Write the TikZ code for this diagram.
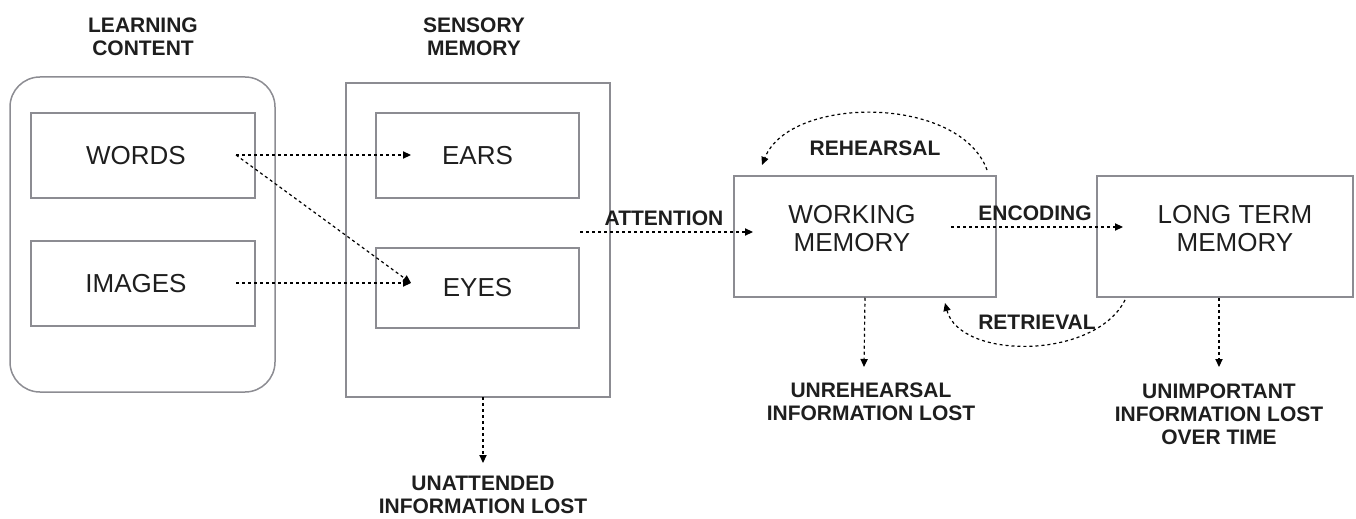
\documentclass[tikz,border=0pt]{standalone}
\usepackage{fontspec}
\setmainfont{Liberation Sans}
\usepackage{tikz}
\usetikzlibrary{arrows.meta}
\definecolor{boxgray}{RGB}{140,140,146}
\definecolor{textblack}{RGB}{30,30,30}

\begin{document}
\begin{tikzpicture}[x=0.5pt,y=-0.5pt,
    box/.style={draw=boxgray, line width=0.75pt, inner sep=0pt},
    boxtext/.style={font=\fontsize{13}{14}\selectfont, text=textblack, align=center},
    lbl/.style={font=\fontsize{10.5}{11.5}\selectfont\bfseries, text=textblack, align=center},
    flow/.style={black, line width=0.6pt, dash pattern=on 1.5pt off 1.5pt, -{Triangle[length=4pt,width=3.6pt]}}]
         \useasboundingbox (0,0) rectangle (1356,519);
         % learning content
         \node[lbl] (learntitle) at (143,37) {LEARNING\\CONTENT};
         \node[box, rounded corners=15pt, minimum width=132.5pt, minimum height=157.5pt] (learn) at (142.5,234.5) {};
         \node[box, minimum width=112pt, minimum height=42.5pt] (words) at (143,155.5) {};
         \node[boxtext] (wordstext) at (136,155.5) {WORDS};
         \node[box, minimum width=112pt, minimum height=42.5pt] (images) at (143,283.5) {};
         \node[boxtext] (imagestext) at (136,283.5) {IMAGES};
         % sensory memory
         \node[lbl] (sensorytitle) at (474,37) {SENSORY\\MEMORY};
         \node[box, minimum width=132pt, minimum height=157pt] (sensory) at (478,240) {};
         \node[box, boxtext, minimum width=101.5pt, minimum height=42.5pt] (ears) at (477.5,155.5) {EARS};
         \node[box, boxtext, minimum width=101.5pt, minimum height=40pt] (eyes) at (477.5,288) {EYES};
         \node[lbl] (unattended) at (483,495) {UNATTENDED\\INFORMATION LOST};
         % working and long term memory
         \node[box, minimum width=131pt, minimum height=60.5pt] (wm) at (865,236.5) {};
         \node[boxtext] (wmtext) at (852,229) {WORKING\\MEMORY};
         \node[box, minimum width=128pt, minimum height=60.5pt] (ltm) at (1225,236.5) {};
         \node[boxtext] (ltmtext) at (1235,229) {LONG TERM\\MEMORY};
         \node[lbl] (unrehearsed) at (871,402) {UNREHEARSAL\\INFORMATION LOST};
         \node[lbl] (unimportant) at (1219,414) {UNIMPORTANT\\INFORMATION LOST\\OVER TIME};
         % connector ends
         \coordinate (wordsout) at (236,155);
         \coordinate (imagesout) at (236,283);
         \coordinate (earsin) at (411,155);
         \coordinate (eyesin) at (411,283);
         \coordinate (sensoryout) at (580,232);
         \coordinate (wmin) at (753,232);
         \coordinate (wmout) at (951,227);
         \coordinate (ltmin) at (1123,227);
         \coordinate (sensorydown) at (483,397);
         \coordinate (sensorylost) at (483,463);
         \coordinate (wmlost) at (864,367);
         \coordinate (ltmlost) at (1219,367);
         \coordinate (rehearsestart) at (987,170);
         \coordinate (rehearseend) at (762,165);
         \coordinate (retrievestart) at (1125,300);
         \coordinate (retrieveend) at (945,303);
         % arrows
         \draw[flow] (wordsout) -- (earsin);
         \draw[flow] (wordsout) -- (eyesin);
         \draw[flow] (imagesout) -- (eyesin);
         \draw[flow] (sensorydown) -- (sensorylost);
         \draw[flow] (sensoryout) -- (wmin);
         \draw[flow] (wmout) -- (ltmin);
         \draw[flow] (wm.south) -- (wmlost);
         \draw[flow] (ltm.south -| ltmlost) -- (ltmlost);
         \draw[flow] (rehearsestart) .. controls (960,95) and (790,95) .. (rehearseend);
         \draw[flow] (retrievestart) .. controls (1095,360) and (960,360) .. (retrieveend);
         \node[lbl] (attention) at (664,218) {ATTENTION};
         \node[lbl] (encoding) at (1035,213) {ENCODING};
         \node[lbl] (rehearsal) at (875,148) {REHEARSAL};
         \node[lbl] (retrieval) at (1037,322) {RETRIEVAL};
    \end{tikzpicture}
\end{document}
